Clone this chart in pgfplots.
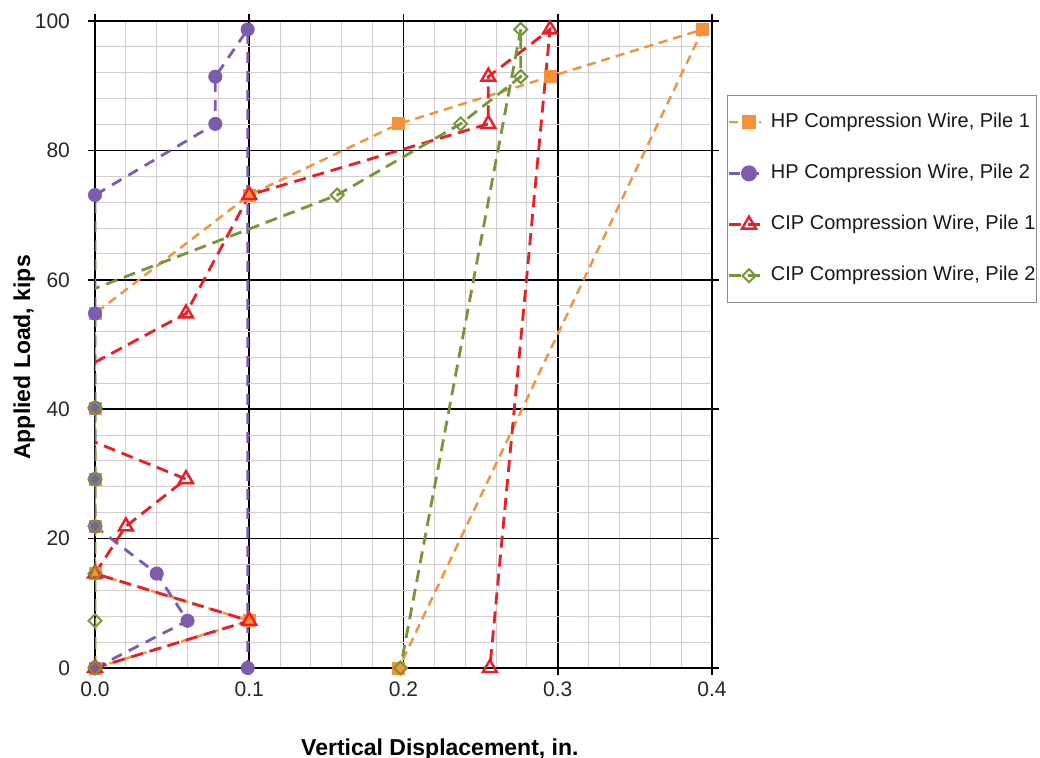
\documentclass[border=0pt]{standalone}
\usepackage{fontspec}
\setmainfont{Liberation Sans}
\usepackage{pgfplots}
\pgfplotsset{compat=1.18}

\definecolor{hporange}{HTML}{F7923A}
\definecolor{hppurple}{HTML}{7B5CAD}
\definecolor{cipred}{HTML}{EE1C25}
\definecolor{cipgreen}{HTML}{77963A}
\definecolor{minorgrid}{HTML}{D5CDCD}

% line and marker styles of the four series
\pgfplotsset{
  hpA line/.style={hporange, line width=1.2pt, dash pattern=on 4.5pt off 3pt},
  hpA mark/.style={mark=square*, mark size=3pt, mark options={solid, fill=hporange}},
  hpB line/.style={hppurple, line width=1.4pt, dash pattern=on 5.5pt off 4pt},
  hpB mark/.style={mark=*, mark size=3.3pt, mark options={solid, fill=hppurple}},
  cipA line/.style={cipred, line width=1.4pt, dash pattern=on 6pt off 3.5pt},
  cipA mark/.style={mark=triangle, mark size=4pt, mark options={solid, line width=1.2pt}},
  cipB line/.style={cipgreen, line width=1.4pt, dash pattern=on 6pt off 3.5pt},
  cipB mark/.style={mark=square, mark size=2.3pt, mark options={solid, rotate=45, line width=1pt}},
}

% load (kips) against displacement (in.); CIP readings left of 0 are kept for the lines
\pgfplotstableread{
x      y
0      0
0.1    7.3
0      14.6
0      21.9
0      29.2
0      40.2
0      54.8
0.1    73.1
0.197  84.1
0.295  91.4
0.394  98.7
0.197  0
}\hpone
\pgfplotstableread{
x      y
0      0
0.06   7.3
0.04   14.6
0      21.9
0      29.2
0      40.2
0      54.8
0      73.1
0.078  84.1
0.078  91.4
0.099  98.7
0.099  0
}\hptwo
\pgfplotstableread{
x      y
0      0
0.1    7.3
0      14.6
0.02   21.9
0.059  29.2
-0.055 40.2
0.059  54.8
0.1    73.1
0.255  84.1
0.255  91.4
0.295  98.7
0.256  0
}\cipone
\pgfplotstableread{
x      y
0      0
0      7.3
0      14.6
0      21.9
0      29.2
0      40.2
-0.042 54.8
0.157  73.1
0.237  84.1
0.276  91.4
0.276  98.7
0.198  0
}\ciptwo

\begin{document}
\begin{tikzpicture}
\begin{axis}[
  at={(47.5pt,44.5pt)}, anchor=south west,
  scale only axis, width=308.5pt, height=323.5pt,
  xmin=0, xmax=0.4, ymin=0, ymax=100,
  xtick={0,0.1,0.2,0.3,0.4},
  xticklabels={0.0,0.1,0.2,0.3,0.4},
  ytick={0,20,40,60,80,100},
  minor x tick num=4, minor y tick num=4,
  grid=both,
  major grid style={black, line width=0.8pt},
  minor grid style={minorgrid, line width=0.5pt},
  axis line style={black, line width=0.8pt},
  tick align=outside, major tick length=3.5pt, minor tick length=0pt,
  tick style={black, line width=0.8pt},
  /pgf/number format/assume math mode=true,
  ticklabel style={font=\fontsize{10.5}{12}\selectfont, text=black!85},
  yticklabel style={xshift=-5.5pt},
  xlabel={Vertical Displacement, in.},
  ylabel={Applied Load, kips},
  xlabel style={font=\bfseries\fontsize{11.5}{13}\selectfont,
    at={(axis description cs:0.559,0)}, anchor=base, yshift=-43.5pt},
  ylabel style={font=\bfseries\fontsize{11.5}{13}\selectfont,
    at={(axis description cs:-0.105,0.48)}, anchor=base},
  legend style={at={(1.0243,0.8856)}, anchor=north west,
    draw=black!45, line width=0.6pt, fill=white,
    font=\fontsize{10}{12}\selectfont, text=black!90,
    inner xsep=0pt, inner ysep=8.8pt, row sep=16.6pt, column sep=1.3pt,
    nodes={inner xsep=0.5pt, inner ysep=0pt, text height=7pt, text depth=2pt}},
  legend cell align=left,
  legend image code/.code={
    \draw[mark repeat=2, mark phase=2, #1]
      plot coordinates {(0pt,0pt) (10pt,0pt) (16pt,0pt)};
  },
]

\addlegendimage{hpA line, hpA mark}
\addlegendentry{\hspace{2.5pt}HP Compression Wire, Pile 1}
\addlegendimage{hpB line, hpB mark}
\addlegendentry{\hspace{2.5pt}HP Compression Wire, Pile 2}
\addlegendimage{cipA line, cipA mark}
\addlegendentry{\hspace{2.5pt}CIP Compression Wire, Pile 1}
\addlegendimage{cipB line, cipB mark}
\addlegendentry{\hspace{2.5pt}CIP Compression Wire, Pile 2}

% HP pile 1
\addplot[hpA line, mark=none, forget plot] table {\hpone};
\addplot[hporange, only marks, hpA mark, forget plot] table {\hpone};

% HP pile 2
\addplot[hpB line, mark=none, forget plot] table {\hptwo};
\addplot[hppurple, only marks, hpB mark, forget plot] table {\hptwo};

% CIP pile 1: marks only where the reading lies in the plotted range
\addplot[cipA line, mark=none, forget plot] table {\cipone};
\addplot[cipred, only marks, cipA mark, forget plot,
  x filter/.expression={x<0 ? nan : x}] table {\cipone};

% CIP pile 2
\addplot[cipB line, mark=none, forget plot] table {\ciptwo};
\addplot[cipgreen, only marks, cipB mark, forget plot,
  x filter/.expression={x<0 ? nan : x}] table {\ciptwo};

\end{axis}
\pgfresetboundingbox
\path (0,0) rectangle (520pt,378.5pt);
\end{tikzpicture}
\end{document}
